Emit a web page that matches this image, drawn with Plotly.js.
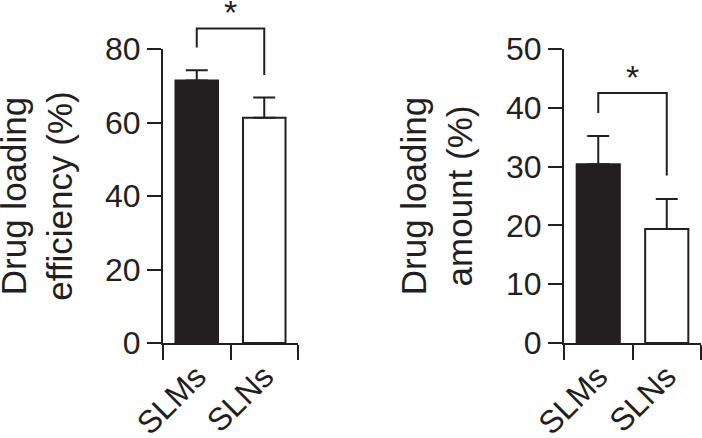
<!DOCTYPE html>
<html>
<head>
<meta charset="utf-8">
<script src="https://cdn.plot.ly/plotly-3.0.1.min.js"></script>
<style>
  html, body { margin: 0; padding: 0; background: #fff; overflow: hidden; }
  /* the figure starts a little left of the window so the left title can sit right at the edge */
  #chart { width: 708px; height: 438px; margin-left: -6px; }
</style>
</head>
<body>
<div id="chart"></div>
<script>
const categories = ['SLMs', 'SLNs'];
const efficiencyMean = [71.4, 61.3];
const efficiencyErr = [2.8, 5.5];
const amountMean = [30.4, 19.4];
const amountErr = [4.8, 5.1];
// significance brackets: left leg end, top, top, right leg end
const efficiencyBracket = [80.4, 85.6, 85.6, 72.9];
const amountBracket = [39.1, 42.5, 42.5, 28.5];
const efficiencyStarY = 90.1;
const amountStarY = 45.3;

const dark = '#231f20';
const shiftX = 6;
const W = 702 + shiftX, H = 438;
const marginB = 95;
const plotH = H - marginB;
const yTop = 294 / plotH; // both value axes end at the same height

function px(x) { return (x + shiftX) / W; } // window pixel -> paper fraction

let barStyle = {
    color: [dark, '#ffffff'],
    line: { color: dark, width: 2 }
};

function errorBars(err) {
    return {
        type: 'data',
        symmetric: false,
        array: err,
        arrayminus: err.map(() => 0), // only the upper half is drawn
        color: dark,
        thickness: 2,
        width: 11
    };
}

let bracketX = [categories[0], categories[0], categories[1], categories[1]];

let data = [
    {
        type: 'bar', x: categories, y: efficiencyMean, width: 0.63,
        marker: barStyle, error_y: errorBars(efficiencyErr),
        xaxis: 'x', yaxis: 'y', hoverinfo: 'none'
    },
    {
        type: 'scatter', mode: 'lines', x: bracketX, y: efficiencyBracket,
        line: { color: dark, width: 2 },
        xaxis: 'x', yaxis: 'y3', hoverinfo: 'none'
    },
    {
        type: 'bar', x: categories, y: amountMean, width: 0.63,
        marker: barStyle, error_y: errorBars(amountErr),
        xaxis: 'x2', yaxis: 'y2', hoverinfo: 'none'
    },
    {
        type: 'scatter', mode: 'lines', x: bracketX, y: amountBracket,
        line: { color: dark, width: 2 },
        xaxis: 'x2', yaxis: 'y2', hoverinfo: 'none'
    }
];

let font = { family: '"Liberation Sans", Arial, sans-serif', color: dark };

let catAxis = {
    type: 'category',
    range: [-0.5, 1.5],
    tickson: 'boundaries',
    ticks: 'outside',
    ticklen: 15,
    tickwidth: 2,
    tickcolor: dark,
    showline: true,
    linewidth: 2,
    linecolor: dark,
    tickangle: -45,
    tickfont: { size: 32 },
    showgrid: false,
    zeroline: false,
    fixedrange: true
};

let valAxis = {
    ticks: 'outside',
    ticklen: 14,
    tickwidth: 2,
    tickcolor: dark,
    showline: true,
    linewidth: 2,
    linecolor: dark,
    tickfont: { size: 32 },
    showgrid: false,
    zeroline: false,
    fixedrange: true
};

let layout = {
    width: W,
    height: H,
    margin: { l: 0, r: 0, t: 0, b: marginB },
    showlegend: false,
    font: font,
    paper_bgcolor: '#ffffff',
    plot_bgcolor: 'rgba(0,0,0,0)',
    xaxis: Object.assign({}, catAxis, { domain: [px(163), px(298)], anchor: 'y' }),
    yaxis: Object.assign({}, valAxis, {
        domain: [0, yTop], range: [0, 80], tickvals: [0, 20, 40, 60, 80], anchor: 'x',
        title: { text: 'Drug loading<br>efficiency (%)', font: { size: 35 }, standoff: 31 }
    }),
    // hidden axis with the same scale, tall enough to hold the bracket above the 80 tick
    yaxis3: { domain: [0, 1], range: [0, 80 / yTop], visible: false, anchor: 'x', fixedrange: true },
    xaxis2: Object.assign({}, catAxis, { domain: [px(564), px(701)], anchor: 'y2' }),
    yaxis2: Object.assign({}, valAxis, {
        domain: [0, yTop], range: [0, 50], tickvals: [0, 10, 20, 30, 40, 50], anchor: 'x2',
        title: { text: 'Drug loading<br>amount (%)', font: { size: 35 }, standoff: 23 }
    }),
    annotations: [
        { x: 0.5, y: efficiencyStarY, xref: 'x', yref: 'y3', text: '*', showarrow: false,
          font: { size: 34 }, yanchor: 'middle' },
        { x: 0.5, y: amountStarY, xref: 'x2', yref: 'y2', text: '*', showarrow: false,
          font: { size: 34 }, yanchor: 'middle' }
    ]
};

Plotly.newPlot('chart', data, layout, { displayModeBar: false, staticPlot: true });
</script>
</body>
</html>
